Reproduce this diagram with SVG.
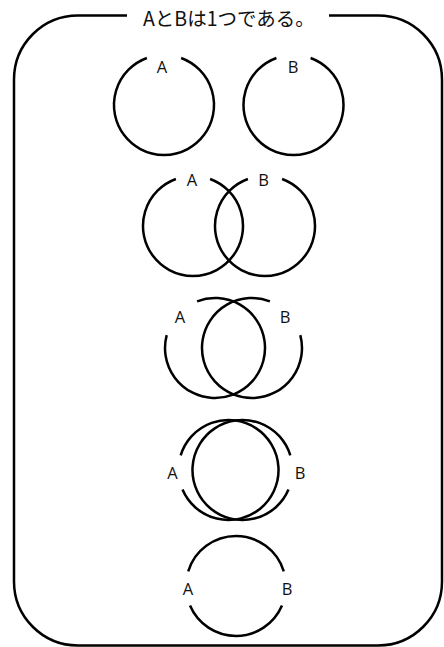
<svg xmlns="http://www.w3.org/2000/svg" width="444" height="647" viewBox="0 0 444 647">
<style>
.ln{fill:none;stroke:#000;stroke-width:2.5;stroke-linecap:butt}
.lb{font-family:"Open Sans","Noto Sans",sans-serif;font-size:16.5px;fill:#111;text-anchor:middle}
.tt{font-family:"Noto Sans CJK JP","Noto Sans",sans-serif;font-size:19.5px;fill:#111}
</style>
<rect width="444" height="647" fill="#fff"/>
<g id="frame">
<path class="ln" d="M127,15.5 H78 A64,64 0 0 0 14,79.5 V581.5 A64,64 0 0 0 78,645.5 H378 A64,64 0 0 0 442,581.5 V79.5 A64,64 0 0 0 378,15.5 H329"/>
<text class="tt" x="143" y="26">AとBは1つである。</text>
</g>
<g id="row1-A"><path class="ln" d="M181.1,58 A50,50 0 1 1 146.9,58"/><text class="lb" x="162" y="73">A</text></g>
<g id="row1-B"><path class="ln" d="M310.6,58 A50,50 0 1 1 276.4,58"/><text class="lb" x="293" y="73">B</text></g>
<g id="row2-A"><path class="ln" d="M210.1,179 A50,50 0 1 1 175.9,179"/><text class="lb" x="192" y="186">A</text></g>
<g id="row2-B"><path class="ln" d="M282.1,179 A50,50 0 1 1 247.9,179"/><text class="lb" x="263.5" y="186">B</text></g>
<g id="row3-A"><path class="ln" d="M197.1,301.3 A50,50 0 1 1 166.7,335.1"/><text class="lb" x="180" y="322.5">A</text></g>
<g id="row3-B"><path class="ln" d="M300.3,335.1 A50,50 0 1 1 269.9,301.3"/><text class="lb" x="285" y="322.5">B</text></g>
<g id="row4-A"><path class="ln" d="M180.7,455.4 A50,50 0 1 1 182.5,489.5"/><text class="lb" x="172.5" y="478.5">A</text></g>
<g id="row4-B"><path class="ln" d="M288.5,489.5 A50,50 0 1 1 290.3,455.4"/><text class="lb" x="300" y="478.5">B</text></g>
<g id="row5-AB"><path class="ln" d="M188.2,571.4 A50,50 0 0 1 283.8,571.4"/><path class="ln" d="M282,605.5 A50,50 0 0 1 190,605.5"/><text class="lb" x="188" y="595">A</text><text class="lb" x="287" y="595">B</text></g>
</svg>
